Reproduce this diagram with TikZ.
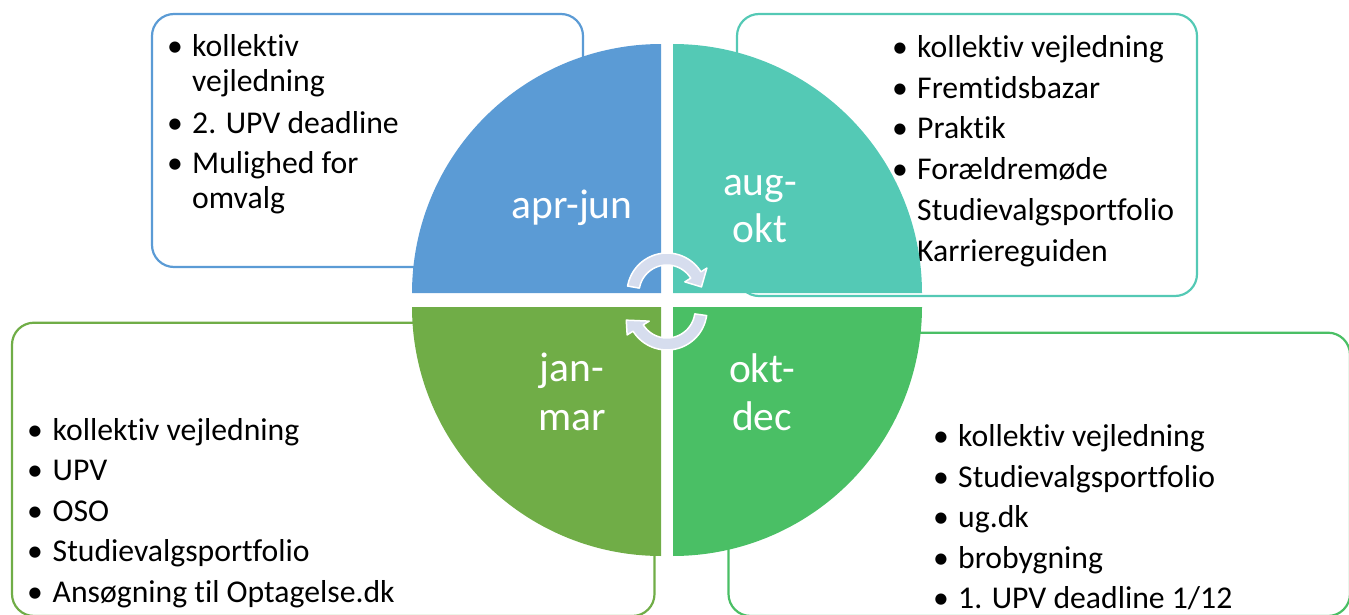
\documentclass[tikz,border=0pt]{standalone}
\usepackage{fontspec}
\setmainfont{Carlito}[Ligatures={NoCommon,NoDiscretionary,NoContextual}]
\definecolor{cblue}{RGB}{91,155,213}
\definecolor{cteal}{RGB}{84,201,181}
\definecolor{clgreen}{RGB}{112,173,71}
\definecolor{cgreen}{RGB}{74,191,101}
\definecolor{carrow}{RGB}{214,221,238}
\tikzset{
  boxframe/.style={line width=2.2pt, rounded corners=22pt},
  itemtext/.style={anchor=base west, inner sep=0pt, font=\fontsize{31.7}{35}\selectfont},
  bulletmark/.style={anchor=base, inner sep=0pt, font=\fontsize{31.7}{35}\selectfont},
  quadlabel/.style={anchor=base, inner sep=0pt, text=white, font=\fontsize{41.5}{46}\selectfont},
  cyclearrow/.style={fill=carrow, draw=white, line width=1.5pt, line join=round}
}
\begin{document}
\begin{tikzpicture}[x=1pt,y=-1pt]
\useasboundingbox (0,0) rectangle (1349,615);
\clip (0,0) rectangle (1349,615);

% ---------- boxes ----------
\draw[boxframe, draw=cblue]   (152,14) rectangle (583,267);
\draw[boxframe, draw=cteal]   (737,14) rectangle (1197,296);
\draw[boxframe, draw=clgreen] (12,322.7) rectangle (654.5,616);
\draw[boxframe, draw=cgreen]  (728.5,332.7) rectangle (1350,616);

% ---------- top-left text ----------
\node[bulletmark] (tlb1) at (175,56.7) {•};
\node[itemtext] (tlt1) at (192,56.7) {kollektiv};
\node[itemtext] (tlt1b) at (192,91.7) {vejledning};
\node[bulletmark] (tlb2) at (175,133.3) {•};
\node[itemtext] (tlt2) at (192,133.3) {2. UPV deadline};
\node[bulletmark] (tlb3) at (175,173.3) {•};
\node[itemtext] (tlt3) at (192,173.3) {Mulighed for};
\node[itemtext] (tlt3b) at (192,208.3) {omvalg};

% ---------- top-right text ----------
\node[bulletmark] (trb1) at (900,57.5) {•};
\node[itemtext] (trt1) at (917,57.5) {kollektiv vejledning};
\node[bulletmark] (trb2) at (900,98.2) {•};
\node[itemtext] (trt2) at (917,98.2) {Fremtidsbazar};
\node[bulletmark] (trb3) at (900,138.9) {•};
\node[itemtext] (trt3) at (917,138.9) {Praktik};
\node[bulletmark] (trb4) at (900,179.6) {•};
\node[itemtext] (trt4) at (917,179.6) {Forældremøde};
\node[bulletmark] (trb5) at (900,220.3) {•};
\node[itemtext] (trt5) at (917,220.3) {Studievalgsportfolio};
\node[bulletmark] (trb6) at (900,261) {•};
\node[itemtext] (trt6) at (917,261) {Karriereguiden};

% ---------- bottom-left text ----------
\node[bulletmark] (blb1) at (35,440) {•};
\node[itemtext] (blt1) at (52.5,440) {kollektiv vejledning};
\node[bulletmark] (blb2) at (35,480.5) {•};
\node[itemtext] (blt2) at (52.5,480.5) {UPV};
\node[bulletmark] (blb3) at (35,521) {•};
\node[itemtext] (blt3) at (52.5,521) {OSO};
\node[bulletmark] (blb4) at (35,561.5) {•};
\node[itemtext] (blt4) at (52.5,561.5) {Studievalgsportfolio};
\node[bulletmark] (blb5) at (35,602) {•};
\node[itemtext] (blt5) at (52.5,602) {Ansøgning til Optagelse.dk};

% ---------- bottom-right text ----------
\node[bulletmark] (brb1) at (941,446.7) {•};
\node[itemtext] (brt1) at (958,446.7) {kollektiv vejledning};
\node[bulletmark] (brb2) at (941,487.2) {•};
\node[itemtext] (brt2) at (958,487.2) {Studievalgsportfolio};
\node[bulletmark] (brb3) at (941,527.7) {•};
\node[itemtext] (brt3) at (958,527.7) {ug.dk};
\node[bulletmark] (brb4) at (941,568.2) {•};
\node[itemtext] (brt4) at (958,568.2) {brobygning};
\node[bulletmark] (brb5) at (941,608.7) {•};
\node[itemtext] (brt5) at (958,608.7) {1. UPV deadline 1/12};

% ---------- pie quadrants ----------
\fill[cblue] (661,293) -- plot[domain=180:270, samples=80, variable=\t] ({661+249*cos(\t)},{293+249*sin(\t)}) -- cycle;
\fill[cteal] (673,293) -- plot[domain=270:360, samples=80, variable=\t] ({673+249*cos(\t)},{293+249*sin(\t)}) -- cycle;
\fill[clgreen] (661,307) -- plot[domain=90:180, samples=80, variable=\t] ({661+249*cos(\t)},{307+249*sin(\t)}) -- cycle;
\fill[cgreen] (673,307) -- plot[domain=0:90, samples=80, variable=\t] ({673+249*cos(\t)},{307+249*sin(\t)}) -- cycle;

% ---------- quadrant labels ----------
\node[quadlabel] (qtl) at (572,218.3) {apr-jun};
\node[quadlabel] (qtr1) at (760,195) {aug-};
\node[quadlabel] (qtr2) at (760,242) {okt};
\node[quadlabel] (qbl1) at (572,381) {jan-};
\node[quadlabel] (qbl2) at (572,430) {mar};
\node[quadlabel] (qbr1) at (762,382) {okt-};
\node[quadlabel] (qbr2) at (762,430) {dec};

% ---------- cycle arrows ----------
\filldraw[cyclearrow]
  plot[domain=-170:-32, samples=40, variable=\t] ({667+40*cos(\t)},{293+40*sin(\t)})
  -- ({667+47*cos(-32)},{293+47*sin(-32)})
  -- ({667+35*cos(-10)},{293+35*sin(-10)})
  -- ({667+21*cos(-32)},{293+21*sin(-32)})
  -- plot[domain=-32:-170, samples=40, variable=\t] ({667+28*cos(\t)},{293+28*sin(\t)})
  -- cycle;
\filldraw[cyclearrow]
  plot[domain=8:148, samples=40, variable=\t] ({667+40*cos(\t)},{310+40*sin(\t)})
  -- ({667+47*cos(148)},{310+47*sin(148)})
  -- ({667+42*cos(166)},{310+42*sin(166)})
  -- ({667+21*cos(148)},{310+21*sin(148)})
  -- plot[domain=148:8, samples=40, variable=\t] ({667+28*cos(\t)},{310+28*sin(\t)})
  -- cycle;
\end{tikzpicture}
\end{document}
